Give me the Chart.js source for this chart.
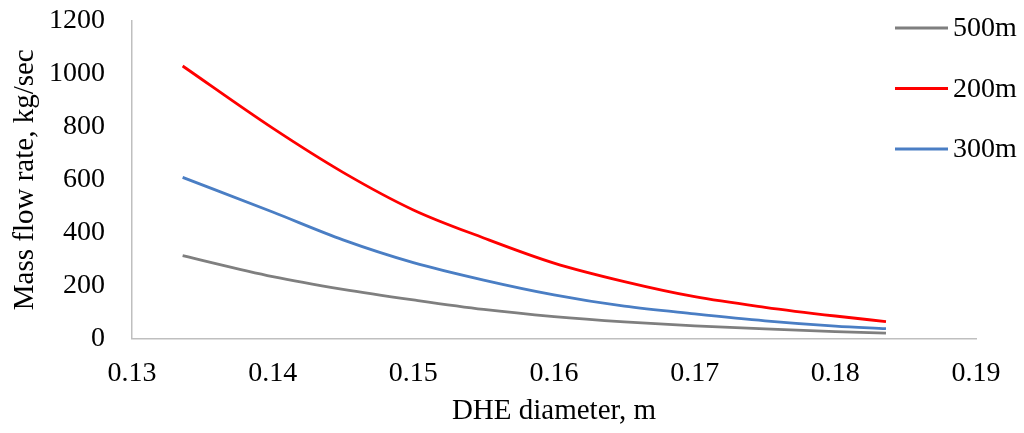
<!DOCTYPE html>
<html>
<head>
<meta charset="utf-8">
<script src="https://cdn.jsdelivr.net/npm/chart.js@4"></script>
<style>
  html, body { margin: 0; padding: 0; background: #fff; }
  #wrap { width: 1024px; height: 433px; }
</style>
</head>
<body>
<div id="wrap"><canvas id="chart"></canvas></div>
<script>
// Data
const diameters = [0.1336, 0.14, 0.145, 0.15, 0.155, 0.16, 0.165, 0.17, 0.175, 0.18, 0.1836];
const flow500 = [313, 234, 186, 146, 110, 83, 63, 48, 36, 26, 20];
const flow200 = [1030, 795, 628, 486, 380, 285, 215, 158, 118, 85, 64];
const flow300 = [609, 478, 373, 287, 221, 165, 122, 93, 67, 47, 37];
const seriesNames = ['500m', '200m', '300m'];
const xTicks = [0.13, 0.14, 0.15, 0.16, 0.17, 0.18, 0.19];

const FONT = '"Liberation Serif", "Times New Roman", serif';
const FS = 28;
const pts = arr => diameters.map((d, i) => ({ x: d, y: arr[i] }));

// legend drawn in the top right corner, over the plot area like the original
const legendRight = {
  id: 'legendRight',
  afterDraw(chart) {
    const ctx = chart.ctx;
    ctx.save();
    ctx.font = FS + 'px ' + FONT;
    ctx.textBaseline = 'middle';
    chart.data.datasets.forEach((ds, i) => {
      const y = 28 + i * 60.5;
      ctx.strokeStyle = ds.borderColor;
      ctx.lineWidth = ds.borderWidth;
      ctx.beginPath();
      ctx.moveTo(895, y);
      ctx.lineTo(948, y);
      ctx.stroke();
      ctx.fillStyle = '#000';
      ctx.fillText(ds.label, 953, y + 1);
    });
    ctx.restore();
  }
};

new Chart(document.getElementById('chart'), {
  type: 'line',
  data: {
    datasets: [
      { label: seriesNames[0], data: pts(flow500), borderColor: '#7f7f7f', borderWidth: 2.8 },
      { label: seriesNames[1], data: pts(flow200), borderColor: '#ff0000', borderWidth: 2.8 },
      { label: seriesNames[2], data: pts(flow300), borderColor: '#4a7ec4', borderWidth: 2.8 }
    ]
  },
  options: {
    responsive: true,
    maintainAspectRatio: false,
    animation: false,
    elements: { point: { radius: 0 }, line: { cubicInterpolationMode: 'monotone', fill: false } },
    layout: { padding: { top: 21, right: 48, left: 0, bottom: 0 } },
    plugins: { legend: { display: false }, tooltip: { enabled: false } },
    scales: {
      x: {
        type: 'linear', min: 0.13, max: 0.19,
        afterBuildTicks: s => { s.ticks = xTicks.map(v => ({ value: v })); },
        afterFit: s => { s.height = 94.5; s.paddingLeft = 0; s.paddingRight = 0; },
        grid: { display: false },
        border: { display: true, color: '#bfbfbf', width: 1.5 },
        ticks: { color: '#000', font: { family: FONT, size: FS }, padding: 10, maxRotation: 0, callback: v => v.toFixed(2) },
        title: { display: true, text: 'DHE diameter, m', color: '#000', font: { family: FONT, size: 29 }, padding: { top: 5 } }
      },
      y: {
        min: 0, max: 1200,
        afterFit: s => { s.width = 132; s.paddingTop = 0; s.paddingBottom = 0; },
        grid: { display: false },
        border: { display: true, color: '#bfbfbf', width: 1.5 },
        ticks: { stepSize: 200, color: '#000', font: { family: FONT, size: FS }, padding: 19, callback: v => String(v) },
        title: { display: true, text: 'Mass flow rate, kg/sec', color: '#000', font: { family: FONT, size: 29 }, padding: { top: 8, bottom: 0 } }
      }
    }
  },
  plugins: [legendRight]
});
</script>
</body>
</html>
